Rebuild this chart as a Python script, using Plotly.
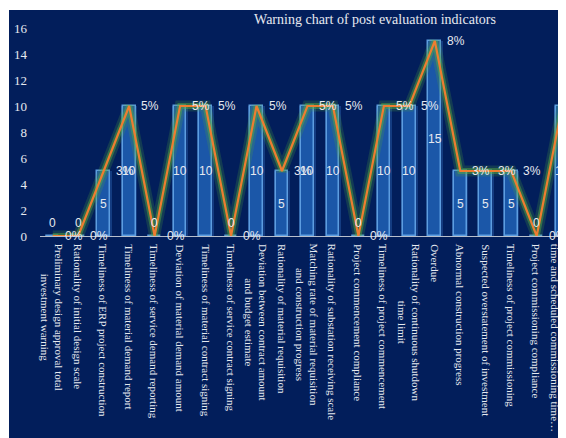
import plotly.graph_objects as go

categories = [
    "Preliminary design approval total<br>investment warning",
    "Rationality of initial design scale",
    "Timeliness of ERP project construction",
    "Timeliness of material demand report",
    "Timeliness of service demand reporting",
    "Deviation of material demand amount",
    "Timeliness of material contract signing",
    "Timeliness of service contract signing",
    "Deviation between contract amount<br>and budget estimate",
    "Rationality of material requisition",
    "Matching rate of material requisition<br>and construction progress",
    "Rationality of substation receiving scale",
    "Project commencement compliance",
    "Timeliness of project commencement",
    "Rationality of continuous shutdown<br>time limit",
    "Overdue",
    "Abnormal construction progress",
    "Suspected overstatement of investment",
    "Timeliness of project commissioning",
    "Project commissioning compliance",
    "Deviation between actual commissioning<br>time and scheduled commissioning time…",
]
counts = [0, 0, 5, 10, 0, 10, 10, 0, 10, 5, 10, 10, 0, 10, 10, 15, 5, 5, 5, 0, 10]
percents = ["0%", "0%", "3%", "5%", "0%", "5%", "5%", "0%", "5%", "3%", "5%",
            "5%", "0%", "5%", "5%", "8%", "3%", "3%", "3%", "0%", "5%"]
y_ticks = [0, 2, 4, 6, 8, 10, 12, 14, 16]

# the page adds an 8px body margin, so the figure is 8px smaller than the window
W, H = 558, 430
ML, MR, MT, MB = 32, 0, 20, 202
PW, PH = W - ML - MR, H - MT - MB

NAVY = "#021e5b"
TXT = "#e6e9f0"
SERIF = "Liberation Serif, Times New Roman, serif"
SANS = "Liberation Sans, Arial, sans-serif"

idx = list(range(len(categories)))

fig = go.Figure()

# bar glow
fig.add_trace(go.Bar(
    x=idx, y=counts, width=0.64,
    marker=dict(color="rgba(70,140,230,0.28)", line=dict(width=0)),
    hoverinfo="skip", showlegend=False,
))
# bars
fig.add_trace(go.Bar(
    x=idx, y=counts, width=0.5,
    marker=dict(color="#1b57a8", line=dict(color="#5d9de0", width=1.5)),
    showlegend=False,
))
# line glow
fig.add_trace(go.Scatter(
    x=idx, y=counts, mode="lines",
    line=dict(color="rgba(80,165,60,0.22)", width=11),
    hoverinfo="skip", showlegend=False,
))
fig.add_trace(go.Scatter(
    x=idx, y=counts, mode="lines",
    line=dict(color="rgba(90,175,60,0.45)", width=6),
    hoverinfo="skip", showlegend=False,
))
# line
fig.add_trace(go.Scatter(
    x=idx, y=counts, mode="lines",
    line=dict(color="#ed7d31", width=2.2),
    showlegend=False,
))

annotations = []
# bar value labels
for i, c in enumerate(counts):
    annotations.append(dict(
        x=i, y=c / 2, xref="x", yref="y", text=str(c), showarrow=False,
        xanchor="center", yanchor="middle", yshift=0 if c else 13,
        font=dict(family=SANS, size=12, color=TXT),
    ))
# percent labels
for i, (c, p) in enumerate(zip(counts, percents)):
    annotations.append(dict(
        x=i, y=c, xref="x", yref="y", text=p, showarrow=False,
        xanchor="left", yanchor="middle", xshift=10,
        font=dict(family=SANS, size=12, color=TXT),
    ))
# category labels (rotated, centred lines)
for i, name in enumerate(categories):
    annotations.append(dict(
        x=i, y=0, xref="x", yref="paper", text=name, showarrow=False,
        textangle=90, align="center", xanchor="center", yanchor="top",
        yshift=-6,
        font=dict(family=SERIF, size=11, color=TXT),
    ))

fig.update_layout(
    width=W, height=H,
    margin=dict(l=ML, r=MR, t=MT, b=MB, pad=0),
    paper_bgcolor="white",
    plot_bgcolor="rgba(0,0,0,0)",
    barmode="overlay",
    bargap=0,
    title=dict(
        text="Warning chart of post evaluation indicators",
        x=(367 - ML) / PW, xref="paper", xanchor="center",
        y=1 - 11 / H, yref="container", yanchor="middle",
        font=dict(family=SERIF, size=14, color=TXT),
    ),
    xaxis=dict(
        tickmode="array", tickvals=idx, showticklabels=False,
        range=[-0.5, 20.15],
        showline=True, linecolor="#b8bfcc", linewidth=1,
        showgrid=False, zeroline=False, ticks="",
        fixedrange=True,
    ),
    yaxis=dict(
        range=[0, 16], tickvals=y_ticks,
        showgrid=False, zeroline=False, showline=False, ticks="",
        ticklabelstandoff=12,
        tickfont=dict(family=SERIF, size=13, color=TXT),
        fixedrange=True,
    ),
    annotations=annotations,
    shapes=[dict(
        type="rect", xref="paper", yref="paper", layer="below",
        x0=(1 - ML) / PW, x1=1.02,
        y0=-(MB + 5) / PH, y1=(PH + MT - 2) / PH,
        fillcolor=NAVY, line=dict(width=0),
    )],
)

fig.write_html("out.html")
